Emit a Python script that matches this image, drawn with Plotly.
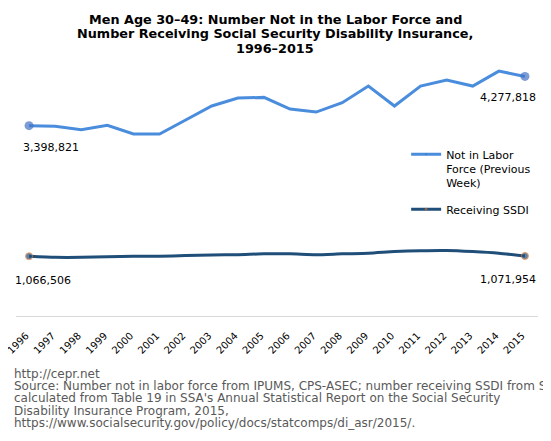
import plotly.graph_objects as go

years = [str(y) for y in range(1996, 2016)]
not_in_lf = [3398821, 3387000, 3327000, 3405000, 3250000, 3250000, 3500000, 3750000,
             3892000, 3904000, 3696000, 3642000, 3809000, 4106000, 3750000, 4106000,
             4213000, 4106000, 4373000, 4277818]
ssdi = [1066506, 1048000, 1048000, 1060000, 1067000, 1067000, 1080000, 1090000,
        1095000, 1110000, 1110000, 1095000, 1110000, 1120000, 1150000, 1166000,
        1170000, 1150000, 1120000, 1071954]
series_names = ["Not in Labor<br>Force (Previous<br>Week)", "Receiving SSDI"]
title_lines = ["Men Age 30–49: Number Not in the Labor Force and",
               "Number Receiving Social Security Disability Insurance,",
               "1996–2015"]
footer_lines = ["http://cepr.net",
                "Source: Number not in labor force from IPUMS, CPS-ASEC; number receiving SSDI from SSA",
                "calculated from Table 19 in SSA's Annual Statistical Report on the Social Security",
                "Disability Insurance Program, 2015,",
                "https://www.socialsecurity.gov/policy/docs/statcomps/di_asr/2015/."]

FONT = "Verdana, DejaVu Sans, sans-serif"
C_UP = "#4A8DDC"
C_UP_M = "#4472C4"
C_LO = "#1F4E79"

# the page body adds an 8px offset; figure is sized to fill the remaining window
W, H = 543, 433
ML, MR, MT, MB = 8, 13, 56, 125
PH = H - MT - MB  # plot height in px

def end_sizes(n, s):
    return [s if i in (0, n - 1) else 0 for i in range(n)]

fig = go.Figure()
fig.add_trace(go.Scatter(
    x=years, y=not_in_lf, name=series_names[0], mode="lines+markers",
    line=dict(color=C_UP, width=3),
    marker=dict(color=C_UP_M, size=end_sizes(len(years), 9), line=dict(width=0)),
    legendgroup="a", hoverinfo="x+y"))
fig.add_trace(go.Scatter(
    x=years, y=ssdi, name=series_names[1], mode="lines+markers",
    line=dict(color=C_LO, width=3, shape="spline", smoothing=0.6),
    marker=dict(color=C_LO, size=end_sizes(len(years), 7),
                line=dict(color="#ED7D31", width=1)),
    legendgroup="b", hoverinfo="x+y"))

def fmt(v):
    return f"{v:,}"

first, last = 0, len(years) - 1
annos = [
    dict(x=first, y=not_in_lf[first], text=fmt(not_in_lf[first]), xanchor="left", xshift=-8, yshift=-22),
    dict(x=last, y=not_in_lf[last], text=fmt(not_in_lf[last]), xanchor="right", xshift=13, yshift=-21),
    dict(x=first, y=ssdi[first], text=fmt(ssdi[first]), xanchor="left", xshift=-16, yshift=-24),
    dict(x=last, y=ssdi[last], text=fmt(ssdi[last]), xanchor="right", xshift=13, yshift=-24),
]
for a in annos:
    a.update(xref="x", yref="y", showarrow=False, yanchor="middle",
             font=dict(family=FONT, size=11, color="#000000"))
    fig.add_annotation(**a)

# title lines (centres in figure px from top)
for i, line in enumerate(title_lines):
    fy = 12 + 14 * i
    fig.add_annotation(text=line, xref="paper", yref="paper", x=0.497,
                       y=(MT - fy) / PH + 1,
                       xanchor="center", yanchor="middle", showarrow=False,
                       font=dict(family=FONT, size=12.8, color="#000000", weight="bold"))

for i, line in enumerate(footer_lines):
    fy = 366 + 12.2 * i
    fig.add_annotation(text=line, xref="paper", yref="paper",
                       x=-0.008, y=(H - MB - fy) / PH,
                       xanchor="left", yanchor="middle", align="left", showarrow=False,
                       font=dict(family=FONT, size=12, color="#595959"))

fig.update_layout(
    template="none",
    width=W, height=H,
    margin=dict(l=ML, r=MR, t=MT, b=MB),
    paper_bgcolor="white", plot_bgcolor="white",
    font=dict(family=FONT, size=11, color="#000000"),
    showlegend=True,
    legend=dict(x=0.7474, xanchor="left", y=0.696, yanchor="top", valign="top",
                traceorder="grouped", tracegroupgap=9,
                font=dict(family=FONT, size=11, color="#000000"),
                bgcolor="rgba(0,0,0,0)"),
    xaxis=dict(type="category", tickangle=-45, showgrid=False, showline=True,
               automargin=False, ticklabelstandoff=9, ticklabelshift=-3,
               linecolor="#D9D9D9", linewidth=1, ticks="", range=[-0.5, 19.5],
               tickfont=dict(family=FONT, size=10, color="#000000")),
    yaxis=dict(range=[0, 4500000], showgrid=False, showticklabels=False,
               automargin=False,
               zeroline=False, showline=False),
)
fig.write_html("out.html")
